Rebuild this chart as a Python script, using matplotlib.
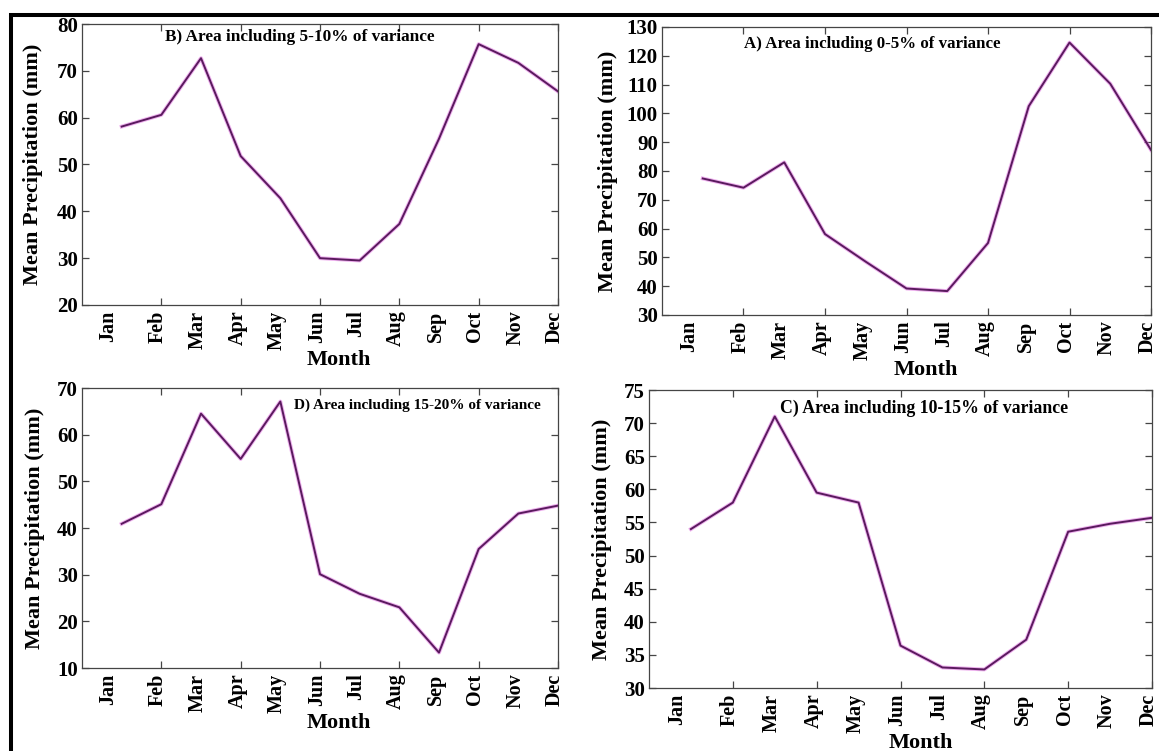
import matplotlib
matplotlib.use("Agg")
import matplotlib.pyplot as plt
import numpy as np
from matplotlib.patches import Rectangle

W, H = 1159, 751

MONTHS = ["Jan", "Feb", "Mar", "Apr", "May", "Jun",
          "Jul", "Aug", "Sep", "Oct", "Nov", "Dec"]

# mean monthly precipitation (mm)
PRECIP_A = [77.4, 74.2, 83.0, 58.1, 48.5, 39.2, 38.3, 55.0, 102.5, 124.6, 110.3, 87.3]
PRECIP_B = [58.1, 60.6, 72.7, 51.8, 42.8, 30.0, 29.5, 37.3, 55.5, 75.7, 71.7, 65.6]
PRECIP_C = [54.0, 58.0, 71.0, 59.5, 58.0, 36.4, 33.1, 32.8, 37.3, 53.6, 54.8, 55.7]
PRECIP_D = [40.9, 45.1, 64.5, 54.8, 67.1, 30.1, 25.9, 23.0, 13.3, 35.5, 43.1, 44.8]

TITLES = {
    "A": "A) Area including 0-5% of variance",
    "B": "B) Area including 5-10% of variance",
    "C": "C) Area including 10-15% of variance",
    "D": "D) Area including 15-20% of variance",
}
YLIMS = {"A": (30, 130, 10), "B": (20, 80, 10), "C": (30, 75, 5), "D": (10, 70, 10)}

# panel boxes in pixels: left, right, top, bottom
BOXES = {
    "B": (82, 558, 24, 305),
    "A": (662, 1151, 27, 315),
    "D": (82, 558, 388, 668),
    "C": (649, 1152, 390, 688),
}
# title placement (axes fraction x, y, fontsize) and ylabel x offset
TITLE_POS = {"B": (0.458, 0.955, 12.4), "A": (0.43, 0.94, 12.2),
             "D": (0.705, 0.94, 11.0), "C": (0.547, 0.94, 12.8)}
YLABEL_X = {"B": -0.082, "A": -0.090, "D": -0.078, "C": -0.074}

SERIF = ["Liberation Serif", "DejaVu Serif"]
LINE_CORE = "#5a1a5e"
LINE_HALO = "#e070e0"
SPINE = "#454545"


def draw_panel(fig, key, values):
    l, r, t, b = BOXES[key]
    ax = fig.add_axes([l / W, 1 - b / H, (r - l) / W, (b - t) / H])

    month_x = np.arange(1, 13) * 0.5
    ax.plot(month_x, values, color=LINE_HALO, lw=2.8, alpha=0.55, solid_joinstyle="round")
    ax.plot(month_x, values, color=LINE_CORE, lw=1.4, solid_joinstyle="round")

    lo, hi, step = YLIMS[key]
    ax.set_xlim(0, 6)
    ax.set_ylim(lo, hi)
    ax.set_yticks(np.arange(lo, hi + step / 2, step))
    ax.set_xticks(np.arange(1, 7))
    ax.set_xticklabels([])

    label_x = month_x - 0.04
    label_x[0] = 0.33
    ax.set_xticks(label_x, minor=True)
    ax.set_xticklabels(MONTHS, minor=True, rotation=90, fontsize=14.5,
                       fontweight="bold", family=SERIF)
    ax.tick_params(axis="x", which="minor", length=0, pad=4)
    ax.tick_params(which="major", direction="in", length=5, width=0.9,
                   color=SPINE, top=True, right=True)
    ax.tick_params(axis="y", labelsize=15, pad=3)
    for lab in ax.get_yticklabels():
        lab.set_fontweight("bold")
        lab.set_family(SERIF)

    for sp in ax.spines.values():
        sp.set_color(SPINE)
        sp.set_linewidth(0.9)

    ax.set_ylabel("Mean Precipitation (mm)", fontsize=16, fontweight="bold", family=SERIF)
    ax.yaxis.set_label_coords(YLABEL_X[key], 0.5)
    ax.set_xlabel("Month", fontsize=16, fontweight="bold", family=SERIF, labelpad=0)
    ax.xaxis.set_label_coords(0.54, -0.16 * 281 / (b - t))

    tx, ty, fs = TITLE_POS[key]
    ax.text(tx, ty, TITLES[key], transform=ax.transAxes, ha="center", va="center",
            fontsize=fs, fontweight="bold", family=SERIF)
    return ax


fig = plt.figure(figsize=(W / 100, H / 100), dpi=100)
fig.patch.set_facecolor("white")

draw_panel(fig, "B", PRECIP_B)
draw_panel(fig, "A", PRECIP_A)
draw_panel(fig, "D", PRECIP_D)
draw_panel(fig, "C", PRECIP_C)

# black frame, cut off at the right and bottom edges as in the original
fig.add_artist(Rectangle((11 / W, -0.1), 1.2, 1 - 15 / H + 0.1,
                         transform=fig.transFigure, fill=False,
                         edgecolor="black", linewidth=2.9))

fig.savefig("out.png", dpi=100)
